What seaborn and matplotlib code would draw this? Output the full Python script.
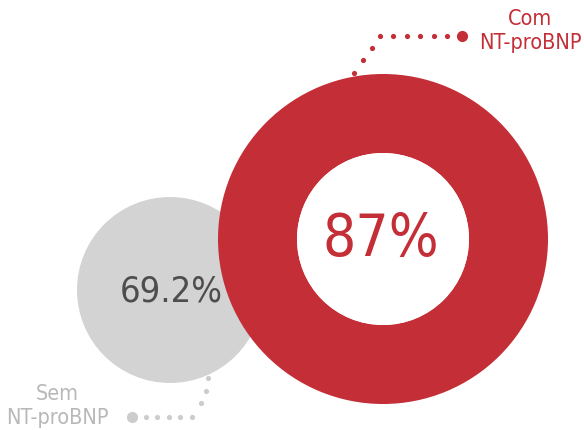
import matplotlib
matplotlib.use("Agg")
import matplotlib.pyplot as plt
from matplotlib.patches import Circle, Wedge
import seaborn as sns
import pandas as pd

groups = ["Sem\nNT-proBNP", "Com\nNT-proBNP"]
values = [69.2, 87]
value_labels = ["69.2%", "87%"]
colors = ["#d3d3d3", "#c42e36"]
text_colors = ["#4d4d4d", "#c42e36"]
label_colors = ["#b8b8b8", "#c42e36"]

sns.set_theme(style="white")
plt.rcParams["font.family"] = ["DejaVu Sans"]
plt.rcParams["font.stretch"] = "condensed"

fig = plt.figure(figsize=(5.84, 4.31), dpi=100)
ax = fig.add_axes([0, 0, 1, 1])
ax.set_xlim(0, 584)
ax.set_ylim(431, 0)
ax.set_aspect("equal")
ax.axis("off")

ax.add_patch(Circle((170, 291), 93, color=colors[0], lw=0, zorder=1))
ax.add_patch(Wedge((383, 240), 165, 0, 360, width=165 - 86, color=colors[1], lw=0, zorder=2))
ax.add_patch(Circle((383, 240), 86, color="white", lw=0, zorder=2))

ax.text(171, 292, value_labels[0], ha="center", va="center", fontsize=26,
        color=text_colors[0], zorder=3)
ax.text(381, 240, value_labels[1], ha="center", va="center", fontsize=42,
        color=text_colors[1], zorder=3)

red_dots = pd.DataFrame({"x": [354, 363, 372, 380, 393, 407, 420, 434, 447],
                         "y": [74, 61, 49, 37, 37, 37, 37, 37, 37]})
sns.scatterplot(data=red_dots, x="x", y="y", ax=ax, color=colors[1], s=14,
                linewidth=0, zorder=4, legend=False)
ax.plot([462], [37], "o", color=colors[1], ms=7, zorder=4)
ax.text(530, 31, groups[1], ha="center", va="center", fontsize=15.5,
        color=label_colors[1], linespacing=1.2)

gray_dots = pd.DataFrame({"x": [146, 157, 169, 180, 192, 201, 206, 208],
                          "y": [418, 418, 418, 418, 418, 404, 392, 379]})
sns.scatterplot(data=gray_dots, x="x", y="y", ax=ax, color="#cccccc", s=14,
                linewidth=0, zorder=4, legend=False)
ax.plot([132], [418], "o", color="#cccccc", ms=7, zorder=4)
ax.text(57, 406, groups[0], ha="center", va="center", fontsize=15.5,
        color=label_colors[0], linespacing=1.2)

ax.set_xlabel("")
ax.set_ylabel("")
fig.savefig("out.png", dpi=100)
